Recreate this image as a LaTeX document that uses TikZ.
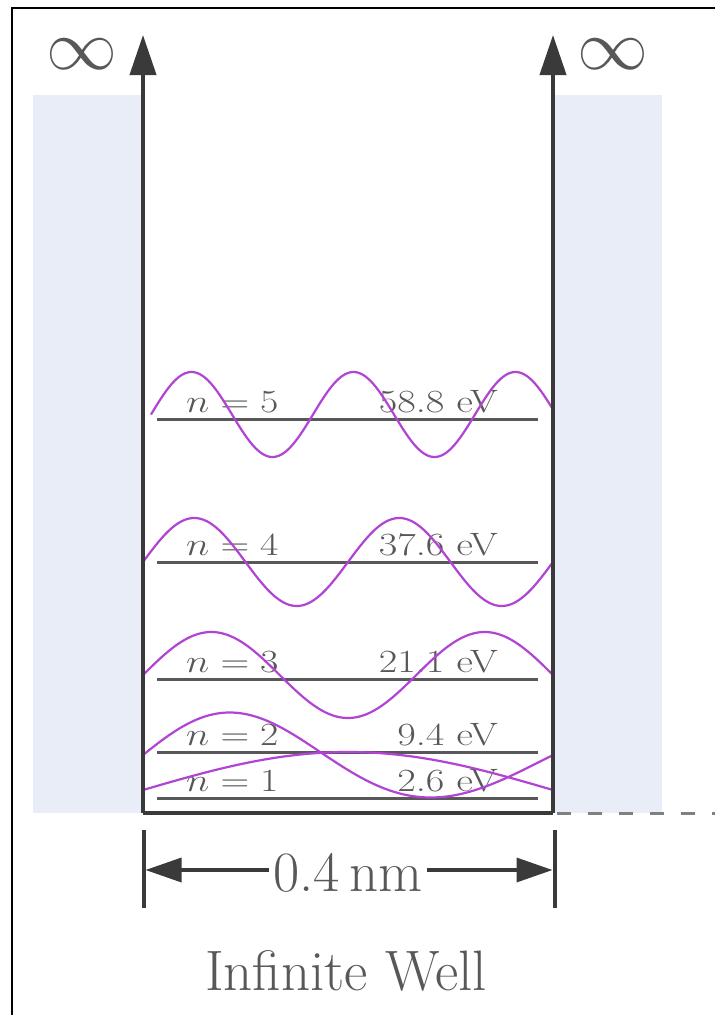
\documentclass[tikz,border=0pt]{standalone}
\usepackage{fontspec}
\usetikzlibrary{arrows.meta}
\definecolor{wellblue}{RGB}{232,237,247}
\definecolor{wavepurple}{RGB}{178,68,212}
\definecolor{wallgray}{RGB}{58,58,58}
\definecolor{levelgray}{RGB}{88,88,88}
\definecolor{textgray}{RGB}{88,88,88}
\definecolor{dashgray}{RGB}{128,128,128}
\newcommand\lvltxt[1]{\scalebox{1.6}[1.3]{#1}}
\newcommand\engtxt[1]{\scalebox{1.62}[1.3]{#1}}
\newcommand\inftxt{\scalebox{2.85}{$\infty$}}
\begin{document}
\begin{tikzpicture}[x=1pt,y=-1pt,
  wall/.style={draw=wallgray, line width=4pt, line join=miter},
  walltip/.style={-{Triangle[length=40pt,width=26pt]}},
  levelline/.style={draw=levelgray, line width=3pt},
  lvl/.style={font=\fontsize{24.88}{30}\selectfont, text=textgray, inner sep=0pt},
  wave/.style={draw=wavepurple, line width=2.2pt},
  bigtext/.style={font=\fontsize{57}{64}\selectfont, text=textgray, inner sep=0pt},
  inftext/.style={font=\fontsize{24.88}{30}\selectfont, text=textgray, inner sep=0pt},
  dimline/.style={draw=wallgray, line width=3.5pt, -{Triangle[length=36pt,width=24pt]}},
  dimtick/.style={draw=wallgray, line width=4pt},
  dashline/.style={draw=dashgray, line width=3pt, dash pattern=on 14pt off 17pt},
  barrier/.style={fill=wellblue, draw=none},
  frameline/.style={draw=black, line width=2pt}]
% canvas
\fill[white] (0,0) rectangle (715,1015);
\useasboundingbox (0,0) rectangle (715,1015);
\draw[frameline] (12,1015) -- (12,8) -- (715,8);
% barriers
\fill[barrier] (33,95) rectangle (143,813);
\fill[barrier] (553,95) rectangle (662,813);
% corner coordinates
\coordinate (lt) at (143,35);
\coordinate (lb) at (143,813);
\coordinate (rb) at (553,813);
\coordinate (rt) at (553,35);
\coordinate (dashend) at (715,813);
% level lines
\foreach \nm/\yy in {l5/419, l4/562, l3/679, l2/752, l1/798}{
  \coordinate (\nm a) at (157,\yy);
  \coordinate (\nm b) at (538,\yy);
  \draw[levelline] (\nm a) -- (\nm b);
}
% level labels
\node[lvl, anchor=base west] (n5) at (186,412) {\lvltxt{$n=5$}};
\node[lvl, anchor=base east] (e5) at (498,412) {\engtxt{58.8 eV}};
\node[lvl, anchor=base west] (n4) at (186,555) {\lvltxt{$n=4$}};
\node[lvl, anchor=base east] (e4) at (498,555) {\engtxt{37.6 eV}};
\node[lvl, anchor=base west] (n3) at (186,672) {\lvltxt{$n=3$}};
\node[lvl, anchor=base east] (e3) at (498,672) {\engtxt{21.1 eV}};
\node[lvl, anchor=base west] (n2) at (186,745) {\lvltxt{$n=2$}};
\node[lvl, anchor=base east] (e2) at (498,745) {\engtxt{9.4 eV}};
\node[lvl, anchor=base west] (n1) at (186,791) {\lvltxt{$n=1$}};
\node[lvl, anchor=base east] (e1) at (498,791) {\engtxt{2.6 eV}};
% wavefunctions
\draw[wave] plot[domain=151:553, samples=220] (\x, {414.5 - 42.5*sin(2.2222*(\x-151))});
\draw[wave] plot[domain=143:553, samples=200] (\x, {562 - 44*sin(1.7561*(\x-143))});
\draw[wave] plot[domain=143:553, samples=180] (\x, {675 - 43*sin(1.31707*(\x-143))});
\draw[wave] plot[domain=0:1, samples=160] ({143+410*\x}, {755 - 42.5*sin(360*(\x+0.23*\x*(1-\x)))});
\draw[wave] plot[domain=143:553, samples=120] (\x, {790 - 38*sin(0.43902*(\x-143))});
% well walls
\draw[wall] (lb) -- (rb);
\draw[wall, walltip] (lb) -- (lt);
\draw[wall, walltip] (rb) -- (rt);
\draw[dashline] ([xshift=4pt]rb) -- (dashend);
% infinity labels
\node[inftext, anchor=base] (infl) at (82,69) {\inftxt};
\node[inftext, anchor=base] (infr) at (613,69) {\inftxt};
% dimension
\coordinate (tlt) at (143.5,830);
\coordinate (tlb) at (143.5,908);
\coordinate (trt) at (554.5,830);
\coordinate (trb) at (554.5,908);
\coordinate (dl) at (145.5,870);
\coordinate (dr) at (552.5,870);
\draw[dimtick] (tlt) -- (tlb);
\draw[dimtick] (trt) -- (trb);
\node[bigtext, anchor=base, inner xsep=4pt] (dim) at (348,891) {0.4\,nm};
\draw[dimline] (dim.west |- dl) -- (dl);
\draw[dimline] (dim.east |- dr) -- (dr);
% caption
\node[bigtext, anchor=base] (cap) at (346,990) {Infinite Well};
\end{tikzpicture}
\end{document}
